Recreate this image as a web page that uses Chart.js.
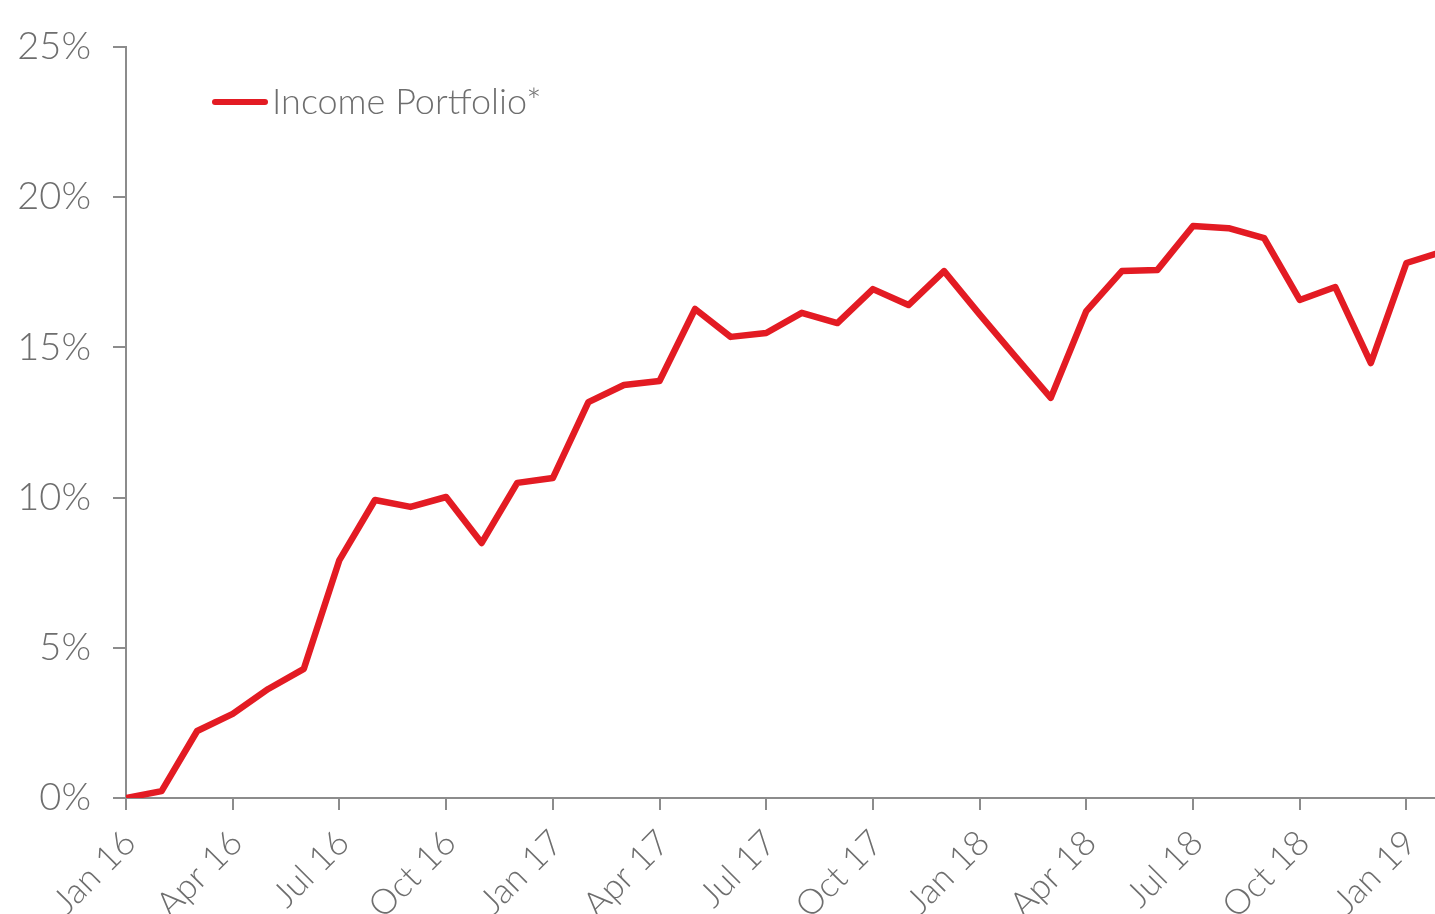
<!DOCTYPE html>
<html>
<head>
<meta charset="utf-8">
<script src="https://cdn.jsdelivr.net/npm/chart.js@4.4.1/dist/chart.umd.min.js"></script>
<style>
  html, body { margin: 0; padding: 0; background: #fff; overflow: hidden; }
  #wrap { position: relative; width: 1460px; height: 914px; }
</style>
</head>
<body>
<div id="wrap"><canvas id="incomeChart"></canvas></div>
<script>
// monthly points, Jan 16 .. Feb 19
const months = ['Jan 16', 'Feb 16', 'Mar 16', 'Apr 16', 'May 16', 'Jun 16',
  'Jul 16', 'Aug 16', 'Sep 16', 'Oct 16', 'Nov 16', 'Dec 16',
  'Jan 17', 'Feb 17', 'Mar 17', 'Apr 17', 'May 17', 'Jun 17',
  'Jul 17', 'Aug 17', 'Sep 17', 'Oct 17', 'Nov 17', 'Dec 17',
  'Jan 18', 'Feb 18', 'Mar 18', 'Apr 18', 'May 18', 'Jun 18',
  'Jul 18', 'Aug 18', 'Sep 18', 'Oct 18', 'Nov 18', 'Dec 18',
  'Jan 19', 'Feb 19'];

const incomeReturns = [0, 0.23, 2.23, 2.8, 3.63, 4.3,
  7.92, 9.92, 9.69, 10.02, 8.49, 10.49,
  10.65, 13.18, 13.75, 13.88, 16.28, 15.35,
  15.48, 16.15, 15.81, 16.94, 16.41, 17.54,
  16.1, 14.7, 13.32, 16.21, 17.54, 17.58,
  19.04, 18.97, 18.64, 16.58, 17.01, 14.48,
  17.81, 18.18];

const yTicks = [0, 5, 10, 15, 20, 25];
const seriesName = 'Income Portfolio*';

const axisGrey = '#8c8c8c';
const textGrey = '#6e6e6e';
const red = '#e31b23';
const fontFamily = 'Lato, "Open Sans", sans-serif';

// simple legend drawn inside the plot area
const insideLegend = {
  id: 'insideLegend',
  afterDraw(chart) {
    const ctx = chart.ctx;
    const area = chart.chartArea;
    const ds = chart.data.datasets[0];
    const y = area.top + 55;
    ctx.save();
    ctx.strokeStyle = ds.borderColor;
    ctx.lineWidth = 6;
    ctx.lineCap = 'round';
    ctx.beginPath();
    ctx.moveTo(area.left + 89, y);
    ctx.lineTo(area.left + 139, y);
    ctx.stroke();
    ctx.fillStyle = textGrey;
    ctx.font = '300 36px ' + fontFamily;
    ctx.textBaseline = 'middle';
    ctx.fillText(ds.label, area.left + 146, y);
    ctx.restore();
  }
};

const ctx = document.getElementById('incomeChart').getContext('2d');
const incomeChart = new Chart(ctx, {
  type: 'line',
  data: {
    datasets: [{
      label: seriesName,
      data: incomeReturns.map((v, i) => ({ x: i, y: v })),
      borderColor: red,
      borderWidth: 6.5,
      borderJoinStyle: 'round',
      borderCapStyle: 'round',
      pointRadius: 0,
      fill: false,
      tension: 0
    }]
  },
  options: {
    responsive: true,
    maintainAspectRatio: false,
    animation: false,
    layout: { padding: { top: 47, right: 18, left: 0, bottom: 0 } },
    plugins: {
      legend: { display: false },
      tooltip: { enabled: false }
    },
    scales: {
      x: {
        type: 'linear',
        min: 0,
        max: months.length - 1,
        grid: { drawOnChartArea: false, color: axisGrey, lineWidth: 2, tickLength: 12 },
        border: { color: axisGrey, width: 2 },
        ticks: {
          stepSize: 3,
          includeBounds: false,
          autoSkip: false,
          maxRotation: 45,
          minRotation: 45,
          padding: 12,
          labelOffset: 4,
          color: textGrey,
          font: { family: fontFamily, size: 35, weight: 300 },
          callback: (v) => months[v]
        },
        afterFit(scale) { scale.height = 116; }
      },
      y: {
        min: 0,
        max: 25,
        afterBuildTicks(scale) { scale.ticks = yTicks.map(v => ({ value: v })); },
        grid: { drawOnChartArea: false, color: axisGrey, lineWidth: 2, tickLength: 13 },
        border: { color: axisGrey, width: 2 },
        ticks: {
          padding: 22,
          color: textGrey,
          font: { family: fontFamily, size: 38, weight: 300 },
          callback: (v) => v + '%'
        },
        afterFit(scale) { scale.width = 126; }
      }
    }
  },
  plugins: [insideLegend]
});
</script>
</body>
</html>
